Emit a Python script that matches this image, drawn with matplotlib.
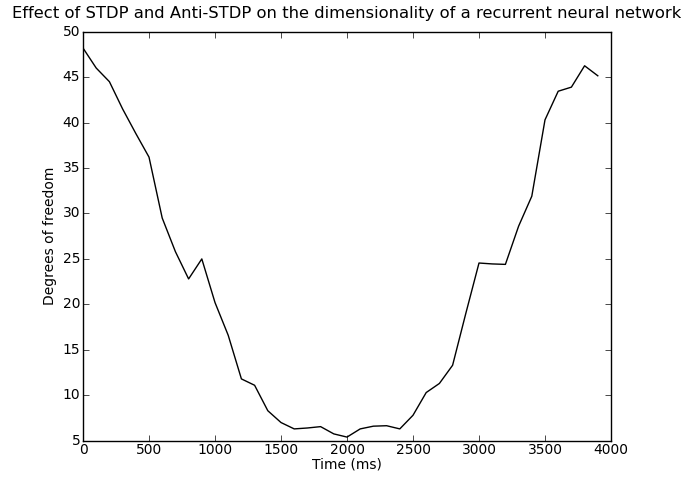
import numpy as np
import matplotlib
matplotlib.use("Agg")
import matplotlib.pyplot as plt

plt.style.use("classic")

# time points (ms) and measured degrees of freedom
time_ms = np.arange(0, 4000, 100)
dof = [48.2, 46.0, 44.5, 41.5, 38.8, 36.2, 29.5, 25.8, 22.8, 25.0,
       20.2, 16.6, 11.8, 11.1, 8.3, 7.0, 6.3, 6.4, 6.55, 5.75,
       5.4, 6.3, 6.6, 6.65, 6.3, 7.8, 10.3, 11.3, 13.3, 19.0,
       24.55, 24.45, 24.4, 28.6, 31.9, 40.3, 43.45, 43.9, 46.25, 45.15]

fig = plt.figure(figsize=(6.81, 4.78), dpi=100, facecolor="white")
ax = fig.add_axes([0.1219, 0.078, 0.7753, 0.8557])

ax.plot(time_ms, dof, color="black", linewidth=1.0)

ax.set_xlim(0, 4000)
ax.set_ylim(5, 50)
ax.tick_params(labelsize=10, pad=2)
ax.set_xlabel("Time (ms)", fontsize=10, labelpad=0)
ax.set_ylabel("Degrees of freedom", fontsize=10, labelpad=4)
ax.set_title("Effect of STDP and Anti-STDP on the dimensionality of a recurrent neural network",
             fontsize=11.8, pad=10)

fig.savefig("out.png", dpi=100, facecolor="white")
